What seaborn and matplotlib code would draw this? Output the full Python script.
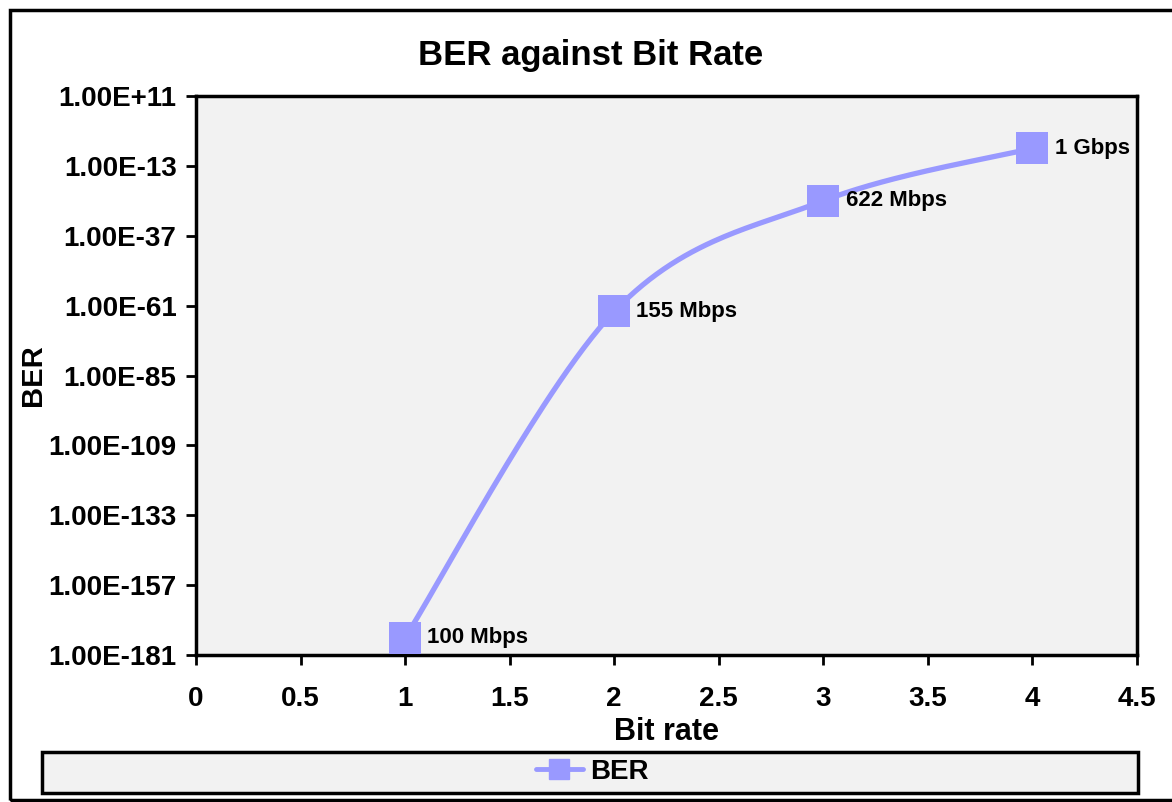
import numpy as np
import pandas as pd
import matplotlib.pyplot as plt
import seaborn as sns
from matplotlib.lines import Line2D
from matplotlib.patches import Rectangle
from matplotlib.ticker import FixedLocator, FuncFormatter, NullLocator

# values
bit_rate = [1, 2, 3, 4]
ber = [1e-175, 1e-63, 1e-25, 1e-7]
rate_labels = ['100 Mbps', '155 Mbps', '622 Mbps', '1 Gbps']
y_tick_exp = [11, -13, -37, -61, -85, -109, -133, -157, -181]
x_ticks = [0, 0.5, 1, 1.5, 2, 2.5, 3, 3.5, 4, 4.5]

df = pd.DataFrame({'Bit rate': bit_rate, 'BER': ber, 'label': rate_labels})

sns.set_style('white')
plt.rcParams['font.family'] = ['Liberation Sans', 'DejaVu Sans']
plt.rcParams['font.weight'] = 'bold'
plt.rcParams['text.color'] = 'black'
plt.rcParams['axes.labelcolor'] = 'black'
plt.rcParams['xtick.color'] = 'black'
plt.rcParams['ytick.color'] = 'black'

col = '#9999ff'

# Excel-style smoothed line (bezier through the points in x / log10(y) space)
px = np.array(df['Bit rate'], dtype=float)
py = np.log10(df['BER'].values)
pts = np.column_stack([px, py])
ext = np.vstack([pts[0], pts, pts[-1]])
curve = []
t = np.linspace(0, 1, 60)[:, None]
for i in range(len(pts) - 1):
    p0, p3 = ext[i + 1], ext[i + 2]
    c1 = p0 + (ext[i + 2] - ext[i]) / 6
    c2 = p3 - (ext[i + 3] - ext[i + 1]) / 6
    seg = (1 - t) ** 3 * p0 + 3 * (1 - t) ** 2 * t * c1 + 3 * (1 - t) * t ** 2 * c2 + t ** 3 * p3
    curve.append(seg)
curve = np.vstack(curve)
smooth = pd.DataFrame({'x': curve[:, 0], 'y': 10 ** curve[:, 1]})

fig = plt.figure(figsize=(11.72, 8.02), dpi=100)
ax = fig.add_axes([196 / 1172, 1 - 655 / 802, (1137 - 196) / 1172, (655 - 96) / 802])
ax.set_facecolor('#f2f2f2')

sns.lineplot(data=smooth, x='x', y='y', sort=False, color=col, lw=3.8, ax=ax, clip_on=False)
sns.scatterplot(data=df, x='Bit rate', y='BER', marker='s', s=500, color=col,
                edgecolor=col, linewidth=0, ax=ax, clip_on=False, zorder=3)

for xv, yv, lab in zip(df['Bit rate'], df['BER'], df['label']):
    ax.annotate(lab, (xv, yv), xytext=(16, 0), textcoords='offset points',
                va='center', ha='left', fontsize=16, fontweight='bold', color='black')

ax.set_yscale('log')
ax.set_ylim(10.0 ** y_tick_exp[-1], 10.0 ** y_tick_exp[0])
ax.yaxis.set_major_locator(FixedLocator([10.0 ** e for e in y_tick_exp]))
ax.yaxis.set_minor_locator(NullLocator())
ax.yaxis.set_major_formatter(FuncFormatter(lambda v, p: f'{v:.2E}'))
ax.set_xlim(0, 4.5)
ax.set_xticks(x_ticks)
ax.set_xticklabels([f'{v:g}' for v in x_ticks])

ax.tick_params(axis='both', direction='out', length=7, width=2, color='black',
               labelsize=20, left=True, bottom=True, labelcolor='black')
ax.tick_params(axis='y', pad=7)
ax.tick_params(axis='x', pad=15)
for lab in ax.get_xticklabels() + ax.get_yticklabels():
    lab.set_fontweight('bold')
for s in ax.spines.values():
    s.set_color('black')
    s.set_linewidth(2.5)

ax.set_xlabel('Bit rate', fontsize=22, fontweight='bold', labelpad=4)
ax.set_ylabel('BER', fontsize=21, fontweight='bold')
ax.yaxis.set_label_coords((47 - 196) / 941, 0.5)
fig.text(591 / 1172, 1 - 55 / 802, 'BER against Bit Rate', fontsize=25, fontweight='bold',
         ha='center', va='center')

# outer chart border
fig.patches.append(Rectangle((10 / 1172, 2 / 802), 1.2, 1 - 12 / 802, transform=fig.transFigure,
                             fill=False, edgecolor='black', lw=2.5, clip_on=False))
# legend box
fig.patches.append(Rectangle((42 / 1172, 1 - 793 / 802), (1138 - 42) / 1172, 41 / 802,
                             transform=fig.transFigure, facecolor='#f2f2f2',
                             edgecolor='black', lw=2.5))
handle = Line2D([], [], color=col, lw=3.5, marker='s', markersize=14)
fig.legend([handle], ['BER'], loc='center', bbox_to_anchor=(592 / 1172, 1 - 772 / 802),
           frameon=False, handlelength=1.7, handletextpad=0.25,
           prop={'weight': 'bold', 'size': 20})

fig.savefig('out.png', dpi=100)
